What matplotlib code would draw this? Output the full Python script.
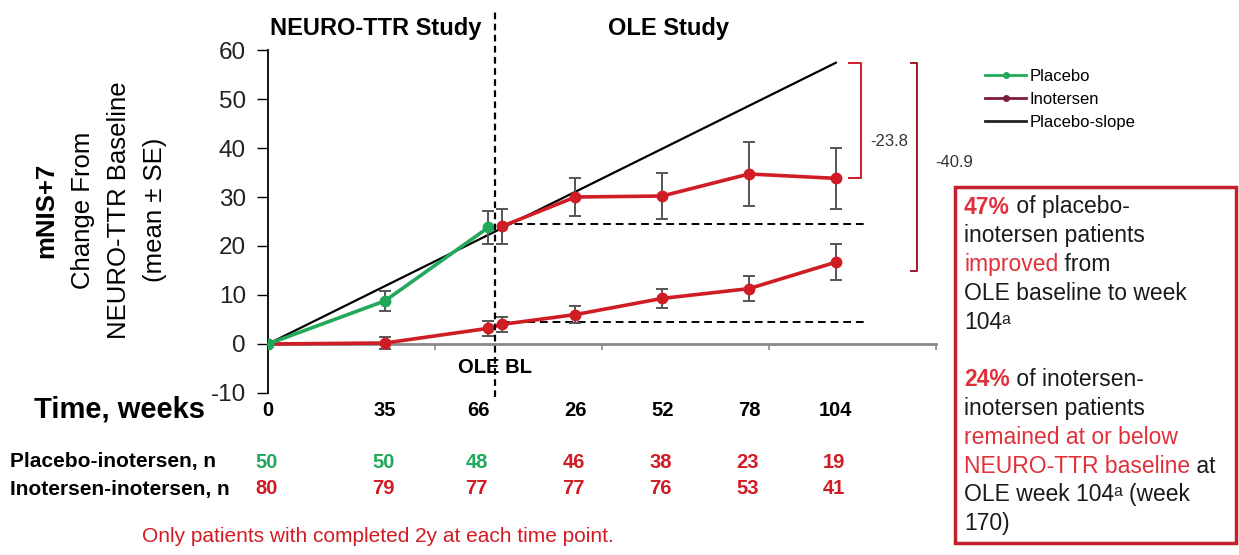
import matplotlib
matplotlib.use("Agg")
import matplotlib.pyplot as plt
from matplotlib.lines import Line2D
from matplotlib.patches import Rectangle
import matplotlib.transforms as mtransforms

plt.rcParams["font.family"] = ["Liberation Sans", "DejaVu Sans"]
plt.rcParams["axes.unicode_minus"] = False

# ---- data (weeks since NEURO-TTR baseline; OLE weeks shifted by 66) ----
neuro_weeks = [0, 35, 66]
ole_weeks = [0, 26, 52, 78, 104]
ole_start = 66
ole_bl_shift = 4          # OLE baseline points drawn a little right of week 66

placebo_y = [0, 8.8, 23.8]
placebo_se = [0, 2.0, 3.3]

pla_ino_y = [24.0, 30.0, 30.2, 34.7, 33.8]
pla_ino_se = [3.6, 3.8, 4.6, 6.5, 6.3]

ino_neuro_y = [0, 0.2, 3.2]
ino_neuro_se = [0, 1.3, 1.5]
ino_ole_y = [4.0, 6.0, 9.3, 11.3, 16.7]
ino_ole_se = [1.5, 1.7, 1.9, 2.5, 3.7]

slope_end_y = 57.4
diff_placebo = "-23.8"
diff_inotersen = "-40.9"

tick_labels = ["0", "35", "66", "26", "52", "78", "104"]
n_placebo = ["50", "50", "48", "46", "38", "23", "19"]
n_inotersen = ["80", "79", "77", "77", "76", "53", "41"]

GREEN = "#21a85a"
RED = "#d01c24"
MAROON = "#7a1d3a"
DARK = "#1a1a1a"
ERR = "#555555"

ole_x = [ole_start + w for w in ole_weeks]
ole_x[0] = ole_start + ole_bl_shift
label_x = neuro_weeks + [ole_start + w for w in ole_weeks[1:]]

fig = plt.figure(figsize=(12.39, 5.55), dpi=100)
ax = fig.add_axes([0.2163, 0.2919, 0.5392, 0.618])
ax.set_xlim(0, 200)
ax.set_ylim(-10, 60)

# placebo slope
ax.plot([0, ole_x[-1]], [0, slope_end_y], color="black", lw=1.6, zorder=2)

# series
ekw = dict(ecolor=ERR, elinewidth=1.4, capsize=4, capthick=1.4, marker="o",
           markersize=7.5, lw=2.6, zorder=3)
ax.errorbar(neuro_weeks, ino_neuro_y, yerr=ino_neuro_se, color=RED, **ekw)
ax.errorbar(ole_x, ino_ole_y, yerr=ino_ole_se, color=RED, **ekw)
ax.plot([neuro_weeks[-1], ole_x[0]], [ino_neuro_y[-1], ino_ole_y[0]], color=RED, lw=2.6, zorder=3)
ax.errorbar(neuro_weeks, placebo_y, yerr=placebo_se, color=GREEN, **ekw)
ax.errorbar(ole_x, pla_ino_y, yerr=pla_ino_se, color=RED, **ekw)

# reference dashed lines
ax.plot([ole_x[0], 179], [pla_ino_y[0] + 0.4, pla_ino_y[0] + 0.4], color="black", ls=(0, (4, 2.5)), lw=1.4, zorder=2)
ax.plot([ole_x[0], 179], [ino_ole_y[0] + 0.4, ino_ole_y[0] + 0.4], color="black", ls=(0, (4, 2.5)), lw=1.4, zorder=2)
ax.plot([68, 68], [-10.8, 68], color="black", ls=(0, (3, 2)), lw=1.6, clip_on=False, zorder=4)

# brackets
top = slope_end_y
ax.plot([174, 177.5, 177.5, 174], [top, top, pla_ino_y[-1], pla_ino_y[-1]], color=RED, lw=1.4, clip_on=False)
ax.plot([192.5, 194.3, 194.3, 192.5], [top, top, ino_ole_y[-1] - 1.8, ino_ole_y[-1] - 1.8], color="#9b1b2a", lw=1.4, clip_on=False)
ax.text(186, 41.4, diff_placebo, fontsize=12, color="#333333", ha="center", va="center")
ax.text(205.5, 37, diff_inotersen, fontsize=12, color="#333333", ha="center", va="center", clip_on=False)

# axes styling
for s in ["top", "right"]:
    ax.spines[s].set_visible(False)
ax.spines["left"].set_linewidth(1.3)
ax.spines["bottom"].set_position(("data", 0))
ax.spines["bottom"].set_color("#8a8a8a")
ax.spines["bottom"].set_linewidth(2)
ax.set_yticks(range(-10, 61, 10))
ax.tick_params(axis="y", direction="out", length=8, width=1, labelsize=17.5, labelcolor="#222222", pad=8)
ax.set_xticks([50, 100, 150, 200])
ax.tick_params(axis="x", direction="out", length=4, width=1.2, color="#8a8a8a", labelbottom=False)

# headings
ax.text(32.3, 64.3, "NEURO-TTR Study", fontsize=17, fontweight="bold", ha="center", va="center", clip_on=False)
ax.text(119.8, 64.3, "OLE Study", fontsize=17, fontweight="bold", ha="center", va="center", clip_on=False)
ax.text(68, -4.8, "OLE BL", fontsize=14.5, fontweight="bold", ha="center", va="center")

# week labels and n rows
bt = mtransforms.blended_transform_factory(ax.transData, fig.transFigure)
for i, lab in enumerate(tick_labels):
    dx = -3 if i == 2 else 0
    ax.text(label_x[i] + dx, 1 - 411 / 555, lab, transform=bt, fontsize=14.5, fontweight="bold",
            ha="center", va="center")
    ax.text(label_x[i] + dx - 0.5, 1 - 462 / 555, n_placebo[i], transform=bt, fontsize=14.5,
            fontweight="bold", color=GREEN if i < 3 else RED, ha="center", va="center")
    ax.text(label_x[i] + dx - 0.5, 1 - 489 / 555, n_inotersen[i], transform=bt, fontsize=14.5,
            fontweight="bold", color=RED, ha="center", va="center")

fig.text(205 / 1239, 1 - 410 / 555, "Time, weeks", fontsize=21, fontweight="bold", ha="right", va="center")
fig.text(10 / 1239, 1 - 462 / 555, "Placebo-inotersen, n", fontsize=15, fontweight="bold", ha="left", va="center")
fig.text(10 / 1239, 1 - 489 / 555, "Inotersen-inotersen, n", fontsize=15, fontweight="bold", ha="left", va="center")
fig.text(142 / 1239, 1 - 536 / 555, "Only patients with completed 2y at each time point.", fontsize=15,
         color=RED, ha="left", va="center")

# y label block
ylab = [("mNIS+7", "bold", 46), ("Change From", "normal", 83), ("NEURO-TTR Baseline", "normal", 119),
        ("(mean \u00b1 SE)", "normal", 155)]
for s, w, xp in ylab:
    fig.text(xp / 1239, 1 - 210 / 555, s, rotation=90, fontsize=18.5, fontweight=w, ha="center", va="center")

# legend
handles = [Line2D([], [], color=GREEN, marker="o", markersize=4, lw=2),
           Line2D([], [], color=MAROON, marker="o", markersize=4, lw=2),
           Line2D([], [], color="#222222", lw=2)]
fig.legend(handles, ["Placebo", "Inotersen", "Placebo-slope"], loc="upper left",
           bbox_to_anchor=(978 / 1239, 1 - 62 / 555), frameon=False, fontsize=12,
           handlelength=2.5, handletextpad=0.2, labelspacing=0.5, borderaxespad=0)

# summary box
fig.patches.append(Rectangle((955 / 1239, 1 - 543 / 555), (1236 - 955) / 1239, (543 - 187) / 555,
                             transform=fig.transFigure, fill=False, edgecolor="#c4202b", lw=2.5))
BRED = "#e0303a"
lines = [
    [("47%", BRED, "bold"), (" of placebo-", DARK, "normal")],
    [("inotersen patients", DARK, "normal")],
    [("improved", BRED, "normal"), (" from", DARK, "normal")],
    [("OLE baseline to week", DARK, "normal")],
    [("104\u1d43", DARK, "normal")],
    [],
    [("24%", BRED, "bold"), (" of inotersen-", DARK, "normal")],
    [("inotersen patients", DARK, "normal")],
    [("remained at or below", BRED, "normal")],
    [("NEURO-TTR baseline", BRED, "normal"), (" at", DARK, "normal")],
    [("OLE week 104\u1d43 (week", DARK, "normal")],
    [("170)", DARK, "normal")],
]
for i, parts in enumerate(lines):
    if not parts:
        continue
    yy = 1 - (207 + 28.8 * i) / 555
    s, c, w = parts[0]
    t = fig.text(964 / 1239, yy, s, color=c, fontweight=w, fontsize=16.5, ha="left", va="center")
    for s, c, w in parts[1:]:
        t = ax.annotate(s, xy=(1, 0), xycoords=t, color=c, fontweight=w, fontsize=16.5,
                        ha="left", va="bottom", annotation_clip=False)

fig.savefig("out.png", dpi=100)
